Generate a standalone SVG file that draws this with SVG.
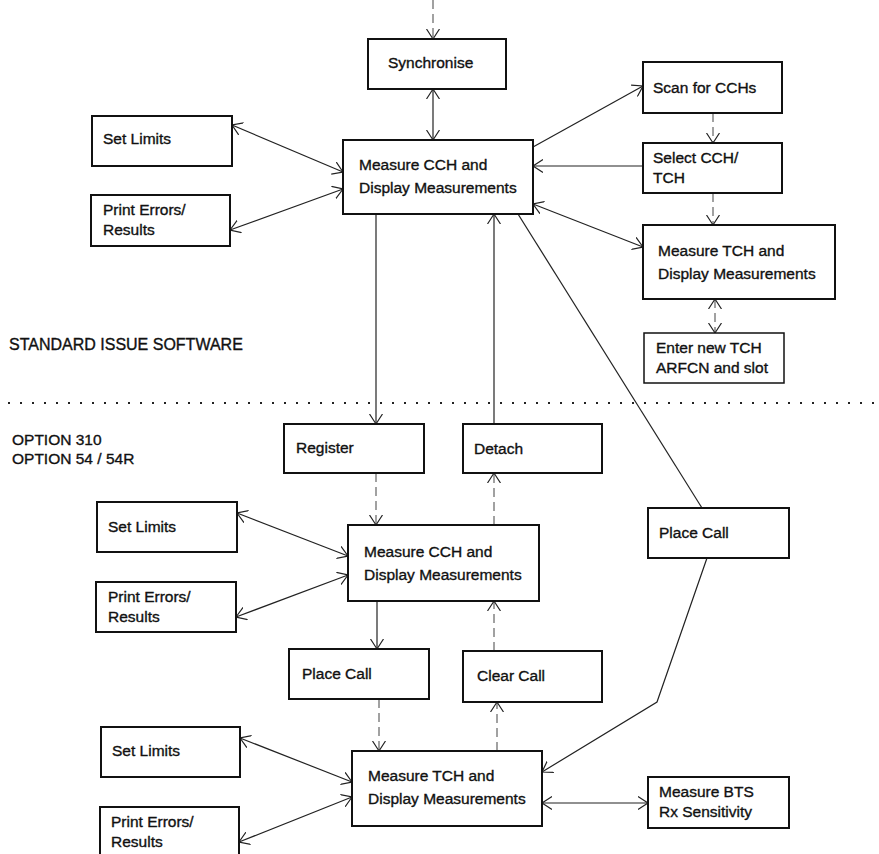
<svg xmlns="http://www.w3.org/2000/svg" width="879" height="854" viewBox="0 0 879 854">
<style>
.box{fill:#fff;stroke:#111;stroke-width:2}
.t{font-family:"Liberation Sans",Arial,sans-serif;font-size:15.5px;fill:#111;stroke:#111;stroke-width:0.35}
.c{fill:none;stroke:#222;stroke-width:1.2}
.d{fill:none;stroke:#555;stroke-width:1.1;stroke-dasharray:9 5}
</style>
<defs>
<marker id="ah" viewBox="0 0 14 14" refX="10" refY="7" markerWidth="14" markerHeight="14" markerUnits="userSpaceOnUse" orient="auto-start-reverse">
<path d="M0,0.5 L10,7 L0,13.5" fill="none" stroke="#222" stroke-width="1.2"/>
</marker>
</defs>
<rect width="879" height="854" fill="#fff"/>
<line x1="8" y1="403" x2="876" y2="403" stroke="#222" stroke-width="2" stroke-dasharray="2 10"/>
<text class="t" x="9" y="350" style="font-size:16px">STANDARD ISSUE SOFTWARE</text>
<text class="t" x="12" y="445">OPTION 310</text>
<text class="t" x="12" y="464">OPTION 54 / 54R</text>
<g id="connectors">
<line class="d" x1="433" y1="0" x2="433" y2="39" marker-end="url(#ah)"/>
<line class="c" x1="433" y1="89" x2="433" y2="140" marker-start="url(#ah)" marker-end="url(#ah)"/>
<line class="c" x1="232" y1="125" x2="343" y2="172" marker-start="url(#ah)" marker-end="url(#ah)"/>
<line class="c" x1="230" y1="230" x2="343" y2="189" marker-start="url(#ah)" marker-end="url(#ah)"/>
<line class="c" x1="533" y1="147" x2="643" y2="86" marker-end="url(#ah)"/>
<line class="d" x1="713" y1="113" x2="713" y2="143" marker-end="url(#ah)"/>
<line class="c" x1="643" y1="166" x2="533" y2="166" marker-end="url(#ah)"/>
<line class="d" x1="713" y1="193" x2="713" y2="225" marker-end="url(#ah)"/>
<line class="c" x1="533" y1="204" x2="643" y2="247" marker-start="url(#ah)" marker-end="url(#ah)"/>
<line class="d" x1="715" y1="299" x2="715" y2="333" marker-start="url(#ah)" marker-end="url(#ah)"/>
<line class="c" x1="376" y1="214" x2="376" y2="424" marker-end="url(#ah)"/>
<line class="c" x1="494" y1="424" x2="494" y2="214" marker-end="url(#ah)"/>
<line class="c" x1="518" y1="214" x2="702" y2="508"/>
<polyline class="c" points="707,558 657,702 542,772" marker-end="url(#ah)"/>
<line class="d" x1="376" y1="473" x2="376" y2="525" marker-end="url(#ah)"/>
<line class="d" x1="494" y1="525" x2="494" y2="473" marker-end="url(#ah)"/>
<line class="c" x1="237" y1="513" x2="348" y2="556" marker-start="url(#ah)" marker-end="url(#ah)"/>
<line class="c" x1="236" y1="617" x2="348" y2="575" marker-start="url(#ah)" marker-end="url(#ah)"/>
<line class="c" x1="377" y1="601" x2="377" y2="649" marker-end="url(#ah)"/>
<line class="d" x1="494" y1="651" x2="494" y2="601" marker-end="url(#ah)"/>
<line class="d" x1="379" y1="699" x2="379" y2="751" marker-end="url(#ah)"/>
<line class="d" x1="497" y1="751" x2="497" y2="702" marker-end="url(#ah)"/>
<line class="c" x1="240" y1="738" x2="352" y2="782" marker-start="url(#ah)" marker-end="url(#ah)"/>
<line class="c" x1="239" y1="842" x2="352" y2="797" marker-start="url(#ah)" marker-end="url(#ah)"/>
<line class="c" x1="542" y1="803" x2="648" y2="803" marker-start="url(#ah)" marker-end="url(#ah)"/>
</g>
<g id="synchronise"><rect class="box" x="368" y="39" width="138" height="50"/><text class="t" x="388" y="68">Synchronise</text></g>
<g id="set-limits-1"><rect class="box" x="92" y="116" width="140" height="50"/><text class="t" x="103" y="144">Set Limits</text></g>
<g id="print-errors-1"><rect class="box" x="91" y="195" width="139" height="51"/><text class="t" x="103" y="215">Print Errors/</text><text class="t" x="103" y="235">Results</text></g>
<g id="measure-cch-1"><rect class="box" x="343" y="140" width="190" height="74"/><text class="t" x="359" y="170">Measure CCH and</text><text class="t" x="359" y="193">Display Measurements</text></g>
<g id="scan-cchs"><rect class="box" x="643" y="62" width="139" height="51"/><text class="t" x="653" y="93">Scan for CCHs</text></g>
<g id="select-cch"><rect class="box" x="643" y="143" width="139" height="50"/><text class="t" x="653" y="163">Select CCH/</text><text class="t" x="653" y="183">TCH</text></g>
<g id="measure-tch-1"><rect class="box" x="643" y="225" width="192" height="74"/><text class="t" x="658" y="256">Measure TCH and</text><text class="t" x="658" y="279">Display Measurements</text></g>
<g id="enter-tch"><rect class="box" x="644" y="333" width="140" height="50" style="stroke-width:1.5"/><text class="t" x="656" y="353">Enter new TCH</text><text class="t" x="656" y="373">ARFCN and slot</text></g>
<g id="register"><rect class="box" x="284" y="424" width="140" height="49"/><text class="t" x="296" y="453">Register</text></g>
<g id="detach"><rect class="box" x="463" y="424" width="139" height="49"/><text class="t" x="474" y="454">Detach</text></g>
<g id="set-limits-2"><rect class="box" x="97" y="502" width="140" height="50"/><text class="t" x="108" y="532">Set Limits</text></g>
<g id="measure-cch-2"><rect class="box" x="348" y="525" width="191" height="76"/><text class="t" x="364" y="557">Measure CCH and</text><text class="t" x="364" y="580">Display Measurements</text></g>
<g id="place-call-right"><rect class="box" x="648" y="508" width="141" height="50"/><text class="t" x="659" y="538">Place Call</text></g>
<g id="print-errors-2"><rect class="box" x="96" y="582" width="140" height="50"/><text class="t" x="108" y="602">Print Errors/</text><text class="t" x="108" y="622">Results</text></g>
<g id="place-call-left"><rect class="box" x="289" y="649" width="140" height="50"/><text class="t" x="302" y="679">Place Call</text></g>
<g id="clear-call"><rect class="box" x="463" y="651" width="139" height="51"/><text class="t" x="477" y="681">Clear Call</text></g>
<g id="set-limits-3"><rect class="box" x="101" y="727" width="139" height="50"/><text class="t" x="112" y="756">Set Limits</text></g>
<g id="measure-tch-2"><rect class="box" x="352" y="751" width="190" height="75"/><text class="t" x="368" y="781">Measure TCH and</text><text class="t" x="368" y="804">Display Measurements</text></g>
<g id="measure-bts"><rect class="box" x="648" y="777" width="141" height="51"/><text class="t" x="659" y="797">Measure BTS</text><text class="t" x="659" y="817">Rx Sensitivity</text></g>
<g id="print-errors-3"><rect class="box" x="100" y="807" width="139" height="52"/><text class="t" x="111" y="827">Print Errors/</text><text class="t" x="111" y="847">Results</text></g>
</svg>
